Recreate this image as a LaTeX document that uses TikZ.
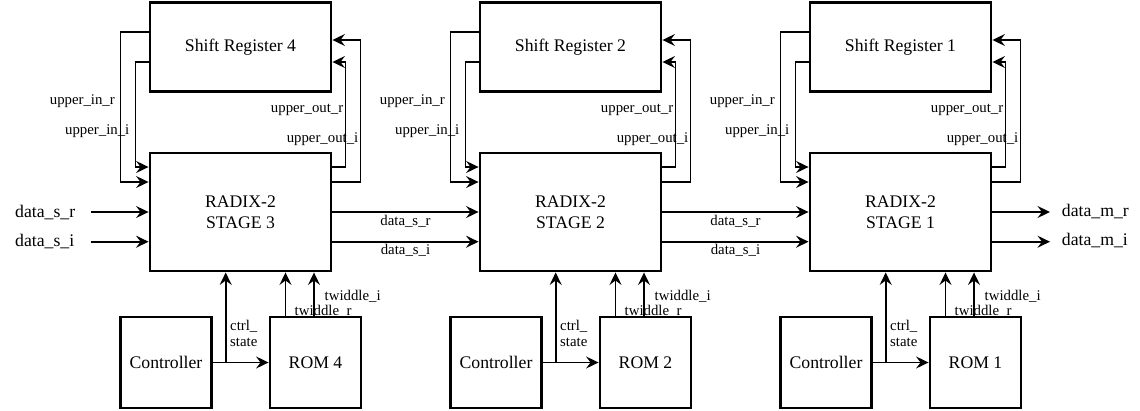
\documentclass[tikz,border=0pt]{standalone}
\usepackage{fontspec}
\setmainfont{Liberation Serif}
\usetikzlibrary{arrows.meta}
\newcommand\dgbig{\fontsize{17.7}{21.5}\selectfont}
\newcommand\dgsmall{\fontsize{14.8}{17}\selectfont}
\begin{document}
\begin{tikzpicture}[x=1pt,y=-1pt,
  blk/.style={draw,line width=2.9pt,inner sep=0pt,align=center,font=\dgbig},
  arr/.style={line width=1.6pt,-{Stealth[length=12.5pt,width=12pt,inset=4.5pt]}},
  lbl/.style={inner sep=0pt,font=\dgsmall},
  biglbl/.style={inner sep=0pt,font=\dgbig}]
\fill[white] (0,0) rectangle (1140,410);
\useasboundingbox (0,0) rectangle (1140,410);
\foreach \i/\s/\r in {0/3/4,1/2/2,2/1/1} {
  \pgfmathsetmacro\ox{\i*330}
  \node[blk,minimum width=181pt,minimum height=89pt] (sr\i) at (\ox+240.5,47) {Shift Register \r};
  \node[blk,minimum width=181pt,minimum height=118pt] (st\i) at (\ox+240.5,212) {RADIX-2\\STAGE \s};
  \node[blk,minimum width=91pt,minimum height=91pt] (ctl\i) at (\ox+166,362.5) {Controller};
  \node[blk,minimum width=91pt,minimum height=91pt] (rom\i) at (\ox+315.5,362.5) {ROM \r};
  % shift register loops
  \draw[arr] ([yshift=15pt]sr\i.west) -- ++(-28,0) |- ([yshift=30pt]st\i.west);
  \draw[arr] ([yshift=-15pt]sr\i.west) -- ++(-13,0) |- ([yshift=45pt]st\i.west);
  \draw[arr] ([yshift=30pt]st\i.east) -- ++(28,0) |- ([yshift=7pt]sr\i.east);
  \draw[arr] ([yshift=45pt]st\i.east) -- ++(13,0) |- ([yshift=-15pt]sr\i.east);
  \node[lbl,anchor=base east] (lir\i) at (\ox+115,104) {upper\_in\_r};
  \node[lbl,anchor=base east] (lii\i) at (\ox+129.5,134) {upper\_in\_i};
  \node[lbl,anchor=base east] (lor\i) at (\ox+343.5,112) {upper\_out\_r};
  \node[lbl,anchor=base east] (loi\i) at (\ox+358.5,142) {upper\_out\_i};
  % controller and ROM
  \draw[arr] (ctl\i.east) -- (rom\i.west);
  \coordinate (br\i) at (\ox+225.7,362.5);
  \draw[arr] (br\i) -- (br\i |- st\i.south);
  \draw[arr] ([xshift=-30pt]rom\i.north) -- ([xshift=-30pt]rom\i.north |- st\i.south);
  \draw[arr] ([xshift=-1.5pt]rom\i.north) -- ([xshift=-1.5pt]rom\i.north |- st\i.south);
  \node[lbl,anchor=base west] (ltr\i) at (\ox+294.5,315) {twiddle\_r};
  \node[lbl,anchor=base west] (lti\i) at (\ox+324.5,300.5) {twiddle\_i};
  \node[lbl,anchor=base west] (lc1\i) at (\ox+230,330) {ctrl\_};
  \node[lbl,anchor=base west] (lc2\i) at (\ox+230,346.5) {state};
}
% inputs
\coordinate (in1) at (91,212);
\coordinate (in2) at (91,241.7);
\draw[arr] (in1) -- (st0.west);
\draw[arr] (in2) -- (in2 -| st0.west);
\node[biglbl,anchor=base west] (dsr) at (15,217.3) {data\_s\_r};
\node[biglbl,anchor=base west] (dsi) at (15,246.7) {data\_s\_i};
% between stages
\draw[arr] (st0.east) -- (st1.west);
\draw[arr] ([yshift=-29.7pt]st0.east) -- ([yshift=-29.7pt]st1.west);
\draw[arr] (st1.east) -- (st2.west);
\draw[arr] ([yshift=-29.7pt]st1.east) -- ([yshift=-29.7pt]st2.west);
\node[lbl,anchor=base] (m1r) at (405.5,225.5) {data\_s\_r};
\node[lbl,anchor=base] (m1i) at (405.5,254.5) {data\_s\_i};
\node[lbl,anchor=base] (m2r) at (735.5,225.5) {data\_s\_r};
\node[lbl,anchor=base] (m2i) at (735.5,254.5) {data\_s\_i};
% outputs
\coordinate (out1) at (1050,212);
\coordinate (out2) at (1050,241.7);
\draw[arr] (st2.east) -- (out1);
\draw[arr] ([yshift=-29.7pt]st2.east) -- (out2);
\node[biglbl,anchor=base west] (dmr) at (1061.7,216.7) {data\_m\_r};
\node[biglbl,anchor=base west] (dmi) at (1061.7,245.5) {data\_m\_i};
\end{tikzpicture}
\end{document}
